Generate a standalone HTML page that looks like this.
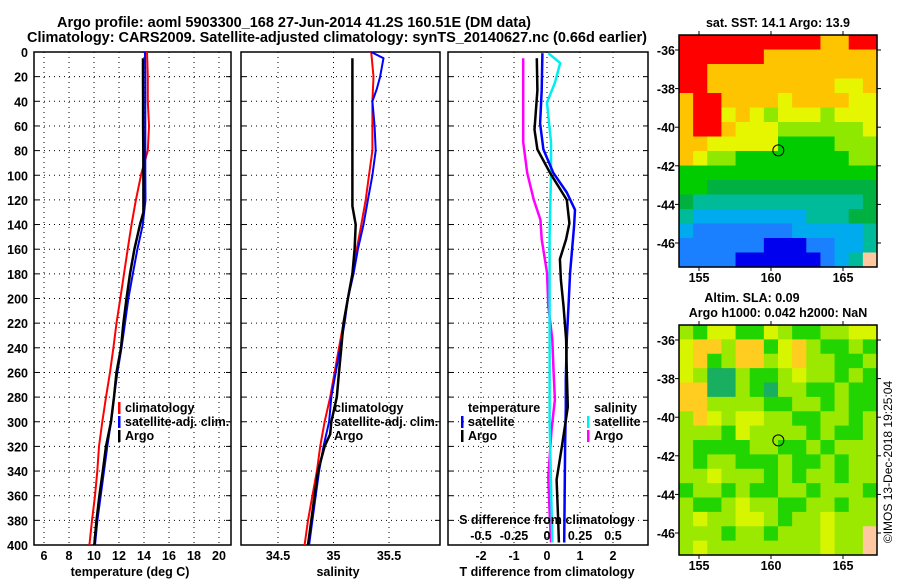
<!DOCTYPE html>
<html><head><meta charset="utf-8"><style>
html,body{margin:0;padding:0;background:#fff;}
svg{display:block;font-family:"Liberation Sans",sans-serif;font-weight:bold;}
</style></head><body>
<svg id="c" width="900" height="580" viewBox="0 0 900 580" xmlns="http://www.w3.org/2000/svg">
<text x="57" y="27" font-size="14.5" textLength="474">Argo profile: aoml 5903300_168 27-Jun-2014 41.2S 160.51E (DM data)</text>
<text x="27" y="42" font-size="14.5" textLength="620">Climatology: CARS2009. Satellite-adjusted climatology: synTS_20140627.nc (0.66d earlier)</text>
<g id="g"></g>
</svg>
<script>
// ---------- data ----------
const depthTicks=[0,20,40,60,80,100,120,140,160,180,200,220,240,260,280,300,320,340,360,380,400];
const tempTicks=[6,8,10,12,14,16,18,20];
const salTicks=[34.5,35,35.5];
const tdiffTicks=[-2,-1,0,1,2];
const sdiffTicks=[-0.5,-0.25,0,0.25,0.5];
const sdiffLabels=["-0.5","-0.25","0","0.25","0.5"];
const mapLatTicks=[-36,-38,-40,-42,-44,-46];
const mapLonTicks=[155,160,165];

const climDepth=[0,20,40,60,80,98,120,140,160,180,200,220,240,260,280,300,320,340,360,380,400];
const tempClim=[14.24,14.3,14.3,14.4,14.3,13.8,13.35,13.0,12.7,12.4,12.1,11.8,11.55,11.28,10.96,10.66,10.4,10.26,10.08,9.84,9.63];
const tempSat=[14.08,14.1,14.1,14.1,14.1,14.1,14.12,13.9,13.47,13.1,12.75,12.48,12.2,11.87,11.6,11.36,11.06,10.8,10.54,10.27,10.08];
const argoDepth=[5,20,40,60,80,100,130,140,160,180,200,220,240,260,280,300,320,340,360,380,400];
const tempArgo=[13.92,13.92,13.93,13.93,13.94,13.95,13.95,13.68,13.23,12.88,12.6,12.35,12.16,11.8,11.6,11.36,10.96,10.7,10.43,10.2,10.02];

const salClimDepth=[0,20,40,60,80,100,120,140,160,180,200,220,240,260,280,300,320,340,360,380,400];
const salClim=[35.34,35.36,35.35,35.35,35.35,35.32,35.29,35.25,35.21,35.17,35.13,35.09,35.05,35.01,34.97,34.92,34.88,34.85,34.81,34.77,34.74];
const salSatDepth=[0,5,20,30,40,60,80,100,120,140,160,180,200,220,240,260,280,300,320,340,360,380,400];
const salSat=[35.34,35.45,35.42,35.39,35.35,35.37,35.38,35.35,35.31,35.27,35.22,35.18,35.13,35.1,35.06,35.02,34.98,34.96,34.91,34.87,34.84,34.81,34.78];
const salArgoDepth=[5,60,120,125,140,160,180,200,220,240,260,280,300,310,320,340,360,380,400];
const salArgo=[35.17,35.17,35.17,35.17,35.2,35.19,35.17,35.13,35.09,35.07,35.05,35.03,34.98,34.97,34.92,34.86,34.83,34.8,34.77];

const diffDepth=[1,31,58,79,98,114,128,141,163,179,206,233,266,288,320,347,374,398];
const tdiffSat=[-0.14,-0.16,-0.21,-0.11,0.19,0.6,0.85,0.82,0.75,0.7,0.65,0.6,0.57,0.57,0.55,0.54,0.53,0.52];
const tdiffArgoDepth=[5,31,63,79,98,120,139,152,168,185,206,233,260,288,320,347,374,398];
const tdiffArgo=[-0.31,-0.29,-0.38,-0.29,0.09,0.6,0.68,0.58,0.39,0.42,0.5,0.58,0.6,0.63,0.45,0.29,0.33,0.36];
const sdiffSatDepth=[1,9,25,41,73,98,150,200,250,300,350,398];
const sdiffSat=[0.01,0.1,0.06,0.0,0.03,0.03,0.02,0.02,0.02,0.02,0.03,0.04];
const sdiffArgoDepth=[5,73,98,120,136,152,179,206,233,260,282,306,345,374,398];
const sdiffArgo=[-0.18,-0.18,-0.15,-0.1,-0.05,-0.04,0.0,0.01,0.04,0.05,0.06,0.035,0.01,0.02,0.03];

// map colour grids (14 cols x 16 rows)
const sstGrid=["RRRRRRRRRROORR","RRRRRROOOOOOOO","RROOOOOOOOOOOO","RROOOOOOOOOYYO","ORROOOOYOOOOYY","ORRYOYLYYYLYYY","ORROYYYLLLLLLY","OOYYYYYGGGGLLL","OYLLGGGGGGGGLL","GGGGGGGGGGGGGG","GGDDDDDDDDDDDD","DTTTTTTTTTTTTD","TCCCCCCCCTTTDD","CBBBBBBBCCCCCT","BBBBBBNNNBBCCT","BBBBNNNNNNBCTP"];
const slaGrid=["LGYYGGYLGGLLYY","YOOLOOGYOLGGLG","YOGLOOLYOLLGGL","YLTTLGGLYLLGLG","OOTTLGTLLGGLGG","OOLLLLGGLLGLGG","LOYLYYLLGGLLGL","LLLGYLLLLGLGGL","LGGGGLLGGLGLLL","LGLLGGGLGGLGLL","LLYLLLGLGLLGLL","GLLGLGGLLGLLLG","LGGLYLLGGLLGLL","LYLLYYLGLLYLLL","LLLGLLGLLLYLLP","LYLLLLLLLLYLLP"];
const argoLon=160.51, argoLat=-41.2;

const colors={R:"#ff0000",O:"#ffc400",Y:"#e6f500",L:"#8ee800",G:"#00cc00",D:"#00b040",T:"#00bb99",C:"#00aaee",B:"#1a80ff",N:"#0000ee",P:"#ffc8a0",A:"#aaff00"};
const slaColors={L:"#9be800",G:"#22d400",Y:"#d8f500",O:"#ffcc20",T:"#18b060",P:"#ffc8a0"};

// ---------- helpers ----------
const NS="http://www.w3.org/2000/svg";
const G=document.getElementById('g');
function mk(tag,at,parent){const e=document.createElementNS(NS,tag);for(const k in at)e.setAttribute(k,at[k]);(parent||G).appendChild(e);return e;}
const TOP=52,BOT=545;
const yD=d=>TOP+d*(BOT-TOP)/400;

function panel(name,x0,x1,xs,ticks,labels){
  for(const d of depthTicks){ if(d>0&&d<400){
    const l=mk('line',{x1:x0,x2:x1,y1:yD(d),y2:yD(d),stroke:'#000','stroke-width':1,'stroke-dasharray':'1,4'});
    
    }
    const t=mk('line',{x1:x0,x2:x0+5,y1:yD(d),y2:yD(d),stroke:'#000'});
    
    
    const t2=mk('line',{x1:x1-5,x2:x1,y1:yD(d),y2:yD(d),stroke:'#000'});
    
    
  }
  ticks.forEach((v,i)=>{
    const x=xs(v);
    const l=mk('line',{x1:x,x2:x,y1:TOP,y2:BOT,stroke:'#000','stroke-width':1,'stroke-dasharray':'1,4'});
    
    
    if(labels){const t=mk('text',{x:x,y:560,'font-size':12.5,'text-anchor':'middle'});t.textContent=labels[i];
    
    }
  });
  const r=mk('rect',{x:x0,y:TOP,width:x1-x0,height:BOT-TOP,fill:'none',stroke:'#000','stroke-width':1.5});
  
  
}
function line(name,xs,vals,depths,color,w){
  const pts=vals.map((v,i)=>xs(v).toFixed(1)+','+yD(depths[i]).toFixed(1)).join(' ');
  const p=mk('polyline',{points:pts,fill:'none',stroke:color,'stroke-width':w,'stroke-linejoin':'round'});
  
  
}
function txt(name,x,y,s,size,anchor){const t=mk('text',{x:x,y:y,'font-size':size||12.5,'text-anchor':anchor||'start'});t.textContent=s;
  
  return t;}
function legbar(name,x,y,color){const r=mk('rect',{x:x,y:y-9,width:2.5,height:12,fill:color});
  
  }

// depth labels
for(const d of depthTicks){const t=txt('depth-label',28,yD(d)+5,String(d),12.5,'end');}

// panel 1 temperature
const xT=v=>44+(v-6)*12.5;
panel('temperature-panel',34,231,xT,tempTicks,tempTicks.map(String));
line('temperature-climatology-line',xT,tempClim,climDepth,'#ff0000',2);
line('temperature-satellite-line',xT,tempSat,climDepth,'#0000ff',2);
line('temperature-argo-line',xT,tempArgo,argoDepth,'#000',2.5);
txt('temperature-axis-title',130,576,'temperature (deg C)',12.5,'middle');
legbar('legend-climatology-swatch',118,411,'#ff0000');txt('legend-climatology',125,412,'climatology');
legbar('legend-satellite-swatch',118,425,'#0000ff');txt('legend-satellite-adj',125,426,'satellite-adj. clim.');
legbar('legend-argo-swatch',118,439,'#000');txt('legend-argo',125,440,'Argo');

// panel 2 salinity
const xS=v=>278+(v-34.5)*111;
panel('salinity-panel',241,440,xS,salTicks,salTicks.map(String));
line('salinity-climatology-line',xS,salClim,salClimDepth,'#ff0000',2);
line('salinity-satellite-line',xS,salSat,salSatDepth,'#0000ff',2);
line('salinity-argo-line',xS,salArgo,salArgoDepth,'#000',2.5);
txt('salinity-axis-title',338,576,'salinity',12.5,'middle');
txt('legend2-climatology',334,412,'climatology');
txt('legend2-satellite-adj',334,426,'satellite-adj. clim.');
txt('legend2-argo',334,440,'Argo');

// panel 3 differences
const xTd=v=>547+v*33;
const xSd=v=>547+v*132;
panel('difference-panel',448,648,xTd,tdiffTicks,tdiffTicks.map(String));
line('salinity-argo-diff-line',xSd,sdiffArgo,sdiffArgoDepth,'#ff00ff',2.5);
line('salinity-satellite-diff-line',xSd,sdiffSat,sdiffSatDepth,'#00eeee',2.5);
line('temperature-satellite-diff-line',xTd,tdiffSat,diffDepth,'#0000ff',2.5);
line('temperature-argo-diff-line',xTd,tdiffArgo,tdiffArgoDepth,'#000',2.5);
sdiffTicks.forEach((v,i)=>txt('sdiff-tick-label',xSd(v),540,sdiffLabels[i],12.5,'middle'));
txt('sdiff-axis-title',547,524,'S difference from climatology',12.5,'middle');
txt('tdiff-axis-title',547,576,'T difference from climatology',12.5,'middle');
txt('legend3-temperature',468,412,'temperature');
legbar('legend3-tsat-swatch',461,425,'#0000ff');txt('legend3-tsat',468,426,'satellite');
legbar('legend3-targo-swatch',461,439,'#000');txt('legend3-targo',468,440,'Argo');
txt('legend3-salinity',594,412,'salinity');
legbar('legend3-ssat-swatch',587,425,'#00eeee');txt('legend3-ssat',594,426,'satellite');
legbar('legend3-sargo-swatch',587,439,'#ff00ff');txt('legend3-sargo',594,440,'Argo');

// maps
function map(name,top,bot,grid,cols,ttl){
  const L=679,R=877;
  const lx=v=>699+(v-155)*14.4;
  const latTop=-36+(top-(top+15))/19.3;
  const ly=v=>(top+15)+(-36-v)*19.3;
  const nr=grid.length,nc=grid[0].length,cw=(R-L)/nc,ch=(bot-top)/nr;
  grid.forEach((row,r)=>{for(let c=0;c<nc;c++){
    const e=mk('rect',{x:(L+c*cw).toFixed(2),y:(top+r*ch).toFixed(2),width:(cw+0.6).toFixed(2),height:(ch+0.6).toFixed(2),fill:cols[row[c]]});
    
    
  }});
  const f=mk('rect',{x:L,y:top,width:R-L,height:bot-top,fill:'none',stroke:'#000','stroke-width':1.5});
  
  
  for(const v of mapLatTicks){const y=ly(v);
    mk('line',{x1:L-4,x2:L,y1:y,y2:y,stroke:'#000'});mk('line',{x1:R,x2:R+4,y1:y,y2:y,stroke:'#000'});
    txt(name+'-lat-label',675,y+5,String(v),12.5,'end');}
  for(const v of mapLonTicks){const x=lx(v);
    mk('line',{x1:x,x2:x,y1:top-4,y2:top,stroke:'#000'});mk('line',{x1:x,x2:x,y1:bot,y2:bot+4,stroke:'#000'});
    txt(name+'-lon-label',x,bot+15,String(v),12.5,'middle');}
  const c=mk('circle',{cx:lx(argoLon),cy:ly(argoLat),r:5.5,fill:'none',stroke:'#000','stroke-width':1});
  
  
}
map('sst-map',35,267,sstGrid,colors);
map('sla-map',325,555,slaGrid,slaColors);
txt('sst-map-title',778,27,'sat. SST: 14.1 Argo: 13.9',12.5,'middle');
txt('sla-map-title-1',752,302,'Altim. SLA: 0.09',12.5,'middle');
txt('sla-map-title-2',778,317,'Argo h1000: 0.042 h2000: NaN',12.5,'middle');
const cp=txt('copyright',0,0,'©IMOS 13-Dec-2018 19:25:04',12,'middle');
cp.setAttribute('transform','translate(892,462) rotate(-90)');
cp.setAttribute('font-weight','normal');
</script>
</body></html>
